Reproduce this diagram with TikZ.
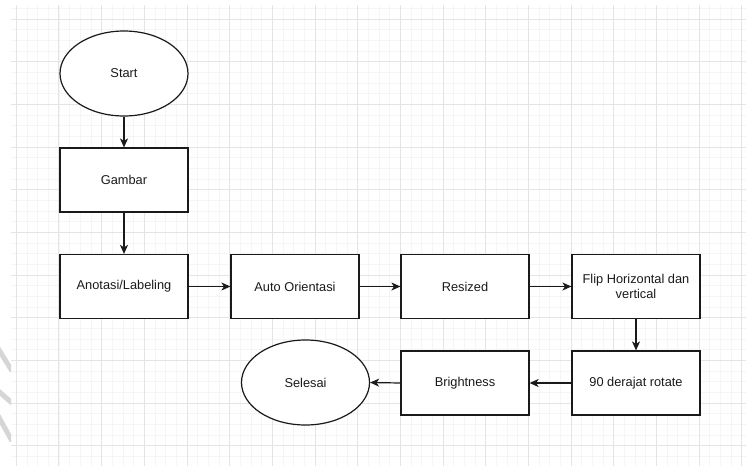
\documentclass[tikz,border=0pt]{standalone}
\usepackage{fontspec}
\setmainfont{Liberation Sans}
\usetikzlibrary{arrows.meta,shapes.geometric}
\definecolor{gridmajor}{HTML}{E4E4E4}
\definecolor{gridminor}{HTML}{F5F5F5}
\definecolor{wm}{HTML}{D6D6D6}
\definecolor{ink}{HTML}{1A1A1A}
\tikzset{
  procbox/.style={draw=ink, line width=1.2pt, fill=white, minimum width=128pt, minimum height=64pt, inner sep=0pt, align=center, font=\fontsize{12.8pt}{15.5pt}\selectfont, text=ink},
  termnode/.style={draw=ink, line width=1.2pt, fill=white, ellipse, minimum width=128pt, minimum height=85pt, inner sep=0pt, font=\fontsize{12.8pt}{15.5pt}\selectfont, text=ink},
  flow/.style={draw=ink, line width=1.2pt, -{Stealth[length=9pt,width=8pt,inset=2.5pt]}}
}
\begin{document}
\begin{tikzpicture}[x=1pt,y=-1pt]
\useasboundingbox (0,0) rectangle (746,466);
\fill[white] (0,0) rectangle (746,466);
% grid
\begin{scope}
  \clip (11,5) rectangle (746,466);
  \foreach \i in {0,...,70} {
    \draw[gridminor, line width=0.9pt] ({5.67+\i*10.667},0) -- ({5.67+\i*10.667},466);
  }
  \foreach \i in {0,...,44} {
    \draw[gridminor, line width=0.9pt] (0,{8.33+\i*10.667}) -- (746,{8.33+\i*10.667});
  }
  \foreach \i in {0,...,17} {
    \draw[gridmajor, line width=1pt] ({16.33+\i*42.667},0) -- ({16.33+\i*42.667},466);
  }
  \foreach \i in {0,...,11} {
    \draw[gridmajor, line width=1pt] (0,{19+\i*42.667}) -- (746,{19+\i*42.667});
  }
\end{scope}
% faint watermark strokes at the left edge
\begin{scope}
  \clip (0,0) rectangle (11,466);
  \draw[wm, line width=5pt] (-4,345) -- (12,371);
  \draw[wm, line width=5pt] (-4,389) -- (12,403);
  \draw[wm, line width=5pt] (-4,412) -- (12,441);
\end{scope}
% nodes
\node[termnode] (start) at (124,73.5) {Start};
\node[procbox] (gambar) at (124,180) {Gambar};
\node[procbox] (anotasi) at (124,286.5) {Anotasi/Labeling};
\node[procbox] (auto) at (295,286.5) {Auto Orientasi};
\node[procbox] (resized) at (465,286.5) {Resized};
\node[procbox] (flip) at (636,286.5) {Flip Horizontal dan\\vertical};
\node[procbox] (rotate) at (636,383) {90 derajat rotate};
\node[procbox] (bright) at (465,383) {Brightness};
\node[termnode] (selesai) at (305.5,382.5) {Selesai};
% connectors
\draw[flow] (start) -- (gambar);
\draw[flow] (gambar) -- (anotasi);
\draw[flow] (anotasi) -- (auto);
\draw[flow] (auto) -- (resized);
\draw[flow] (resized) -- (flip);
\draw[flow] (flip) -- (rotate);
\draw[flow] (rotate) -- (bright);
\draw[flow] (bright.west) -- (selesai.east);
\end{tikzpicture}
\end{document}
